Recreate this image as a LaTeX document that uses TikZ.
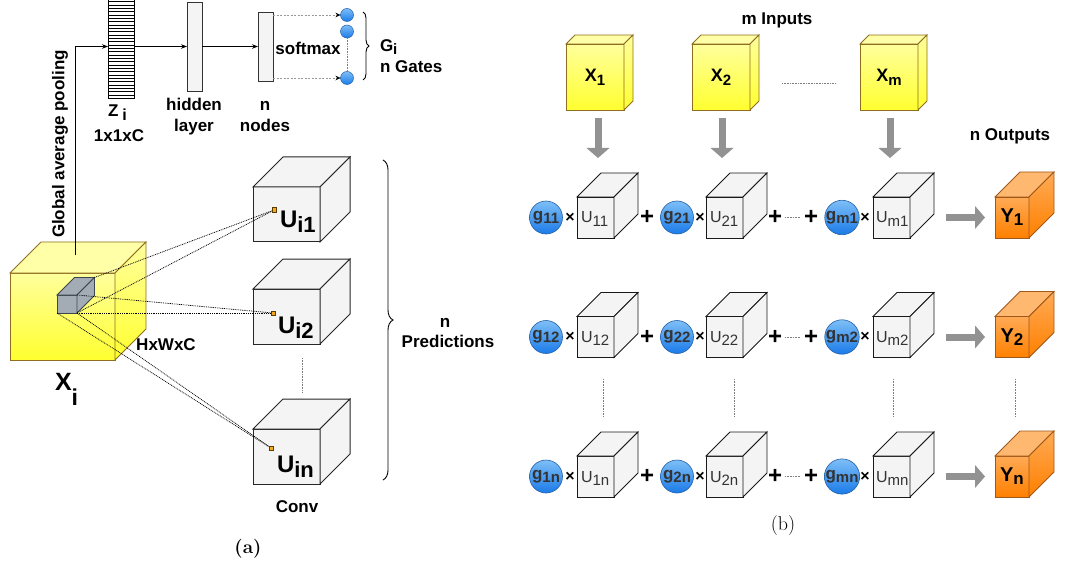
\documentclass[tikz,border=0pt]{standalone}
\usepackage{fontspec}
\setsansfont{Liberation Sans}
\usepackage{graphicx}
\usetikzlibrary{arrows.meta,decorations.pathreplacing,calc}

\definecolor{ylt}{HTML}{FFFF9C}
\definecolor{ydk}{HTML}{FFFF30}
\definecolor{ytopc}{HTML}{FFFFA8}
\definecolor{ybd}{HTML}{8F6E1F}
\definecolor{olt}{HTML}{FFAA55}
\definecolor{odk}{HTML}{FF8000}
\definecolor{otopc}{HTML}{FFB870}
\definecolor{obd}{HTML}{A0581A}
\definecolor{blt}{HTML}{7DBEF7}
\definecolor{bdk}{HTML}{1B7BE8}
\definecolor{bbd}{HTML}{2460A8}
\definecolor{cubefill}{HTML}{F4F4F4}
\definecolor{txtgray}{HTML}{333333}
\definecolor{arrgray}{HTML}{929292}
\definecolor{gcf}{HTML}{A3ACB5}
\definecolor{gcd}{HTML}{3C4650}
\definecolor{sqf}{HTML}{F5A623}
\definecolor{sqd}{HTML}{5A3D00}

\newcommand\myfs[1]{\fontsize{#1}{#1}\selectfont}
\newcommand\lowr[3]{\raisebox{-#1pt}{\myfs{#2}#3}}
\newcommand\cubesides[4]{%
  \draw[#3] (#1.north west) -- ++(#2,-#2) -- ([shift={(#2,-#2)}]#1.north east) -- (#1.north east) -- cycle;
  \draw[#4] (#1.north east) -- ++(#2,-#2) -- ([shift={(#2,-#2)}]#1.south east) -- (#1.south east) -- cycle;}

\begin{document}
\begin{tikzpicture}[x=1pt,y=-1pt,
  every node/.style={inner sep=0pt, outer sep=0pt},
  lbl/.style={font=\sffamily\bfseries\myfs{17}},
  arr/.style={-{Stealth[length=6pt,width=4.5pt]}, line width=0.8pt},
  dasharr/.style={draw=gray!80, dash pattern=on 2pt off 1.5pt, line width=0.6pt, -{Stealth[black,length=5pt,width=4.5pt]}},
  thindot/.style={draw=gray, dash pattern=on 0.8pt off 0.8pt, line width=0.6pt},
  dotl/.style={dash pattern=on 0.9pt off 0.9pt, line width=0.75pt},
  brc/.style={decorate, line width=0.9pt},
  bigarrow/.style={draw=arrgray, line width=7pt, -{Triangle[length=10pt,width=23pt,line width=0pt]}},
  layerbox/.style={draw=black!80, fill=cubefill, line width=0.8pt, minimum width=15pt},
  zbarbox/.style={draw, fill=white, line width=0.8pt, minimum width=26pt, minimum height=103pt},
  gdot/.style={circle, minimum size=13pt, top color=blt, bottom color=bdk, draw=bbd, line width=0.5pt},
  gate/.style={circle, minimum size=33pt, top color=blt, bottom color=bdk, draw=bbd, line width=0.6pt, font=\sffamily\bfseries\myfs{17}, text=txtgray},
  ycube/.style={top color=ylt, bottom color=ydk, draw=ybd, line width=0.8pt},
  ytop/.style={draw=ybd, line width=0.8pt, fill=ytopc},
  yside/.style={draw=ybd, line width=0.8pt, top color=ylt, bottom color=ydk},
  ocube/.style={top color=olt, bottom color=odk, draw=obd, line width=0.8pt, minimum width=34pt, minimum height=41pt, font=\sffamily\bfseries\myfs{20}},
  otop/.style={draw=obd, line width=0.8pt, fill=otopc},
  oside/.style={draw=obd, line width=0.8pt, top color=olt, bottom color=odk},
  gcube/.style={draw=gcd, fill=gcf, line width=0.8pt, minimum width=20pt, minimum height=18pt},
  gside/.style={draw=gcd, fill=gcf, line width=0.8pt},
  acube/.style={draw=black!85, fill=cubefill, line width=1pt, minimum width=67pt, minimum height=55pt},
  aside/.style={draw=black!85, fill=cubefill, line width=1pt},
  ucube/.style={draw=black!90, fill=cubefill, line width=0.8pt, minimum width=37pt, minimum height=41pt},
  uside/.style={draw=black!90, fill=cubefill, line width=0.8pt},
  ulbl/.style={anchor=base west, font=\sffamily\myfs{16}, text=txtgray},
  alab/.style={anchor=base west, font=\sffamily\bfseries\myfs{24}},
  sq/.style={draw=sqd, fill=sqf, line width=0.5pt, minimum size=4.5pt},
  tms/.style={font=\sffamily\bfseries\myfs{16}},
  pls/.style={font=\sffamily\bfseries\myfs{24}},
  xbox/.style={ycube, minimum width=58pt, minimum height=66pt, font=\sffamily\bfseries\myfs{18}}
]
\useasboundingbox (0,0) rectangle (1067,569);

% ---------------- (a) ----------------
\node[zbarbox] (zbar) at (121,46.5) {};
\foreach \k in {1,...,30}
  \draw[line width=0.5pt] ([yshift=-\k*3.33pt]zbar.north west) -- ([yshift=-\k*3.33pt]zbar.north east);
\node[layerbox, minimum height=89pt] (hidden) at (194.5,46.5) {};
\node[layerbox, minimum height=69pt] (nnodes) at (265.5,46.5) {};
\draw[arr] (zbar.east) -- (hidden.west);
\draw[arr] (hidden.east) -- (nnodes.west);
\node[gdot] (gt1) at (347,15) {};
\node[gdot] (gt2) at (347,31.5) {};
\node[gdot] (gt3) at (347,78) {};
\draw[dasharr] (nnodes.east |- gt1) -- (gt1.west);
\draw[dasharr] (nnodes.east |- gt3) -- (gt3.west);
\draw[thindot] (gt2.south) -- (gt3.north);
\node[lbl] (smx) at (308,48) {softmax};
\draw[brc, decoration={brace,amplitude=6pt}] (363,12) -- (363,80);
\node[lbl, anchor=base west] (gi) at (380,52) {G\lowr{3}{15}{i}};
\node[lbl, anchor=base west] (ng) at (380,73) {n Gates};
\node[lbl, anchor=base west] (zi) at (108,117) {Z\hspace{4pt}\lowr{4}{16}{i}};
\node[lbl, anchor=base] (zdim) at (119,142) {1x1xC};
\node[lbl, anchor=base] (hid1) at (194,111) {hidden};
\node[lbl, anchor=base] (hid2) at (194,132) {layer};
\node[lbl, anchor=base] (nn1) at (265,111) {n};
\node[lbl, anchor=base] (nn2) at (265,132) {nodes};
\node[lbl, rotate=90] (gap) at (60,144) {Global average pooling};

% input cube X_i
\node[ycube, minimum width=105pt, minimum height=87pt] (xi) at (62.5,316.5) {};
\cubesides{xi}{31}{ytop}{yside}
\coordinate (gpstart) at (75,255);
\draw[arr] (gpstart) |- (zbar.west);
\node[gcube] (gc) at (67,304) {};
\cubesides{gc}{17.5}{gside}{gside}
\coordinate (gctbr) at ([shift={(17.5,-17.5)}]gc.north east);
\node[lbl, anchor=base] (hwc) at (166,350) {HxWxC};
\node[font=\sffamily\bfseries\myfs{25}, anchor=base west] (xil) at (55,390) {X\lowr{15}{23}{i}};

% prediction cubes
\node[acube] (ui1) at (286.5,214.5) {};
\cubesides{ui1}{30}{aside}{aside}
\node[acube] (ui2) at (286.5,316.5) {};
\cubesides{ui2}{30}{aside}{aside}
\node[acube] (uin) at (286.5,456.5) {};
\cubesides{uin}{30}{aside}{aside}
\node[alab] (lui1) at (280,228) {U\lowr{5}{22}{i1}};
\node[alab] (lui2) at (278,333) {U\lowr{5}{22}{i2}};
\node[alab] (luin) at (277,472) {U\lowr{5}{22}{in}};
\node[sq] (sq1) at (274,210) {};
\node[sq] (sq2) at (273,313) {};
\node[sq] (sq3) at (271,448) {};
\draw[dotl] (gctbr) -- (sq1);
\draw[dotl] (gc.south east) -- (sq1);
\draw[dotl] (gc.north east) -- (sq2);
\draw[dotl] (gc.south east) -- (sq2);
\draw[dotl] (gc.south west) -- (sq3);
\draw[dotl] (gc.south east) -- (sq3);
\draw[thindot] ([xshift=15.5pt,yshift=-14pt]ui2.south) -- ([xshift=15.5pt,yshift=36pt]uin.north);
\node[lbl, anchor=base] (conv) at (297,512) {Conv};
\draw[brc, decoration={brace,amplitude=10pt}] (383,160) -- (383,480);
\node[lbl, anchor=base] (np1) at (445,327) {n};
\node[lbl, anchor=base] (np2) at (448,347) {Predictions};
\node[font=\rmfamily\bfseries\myfs{19}] (capa) at (248,549) {(a)};

% ---------------- (b) ----------------
\node[lbl] (minp) at (777,20) {m Inputs};
\node[lbl] (nout) at (1010,136) {n Outputs};
\node[xbox] (x1) at (595,77) {X\lowr{4}{15}{1}};
\cubesides{x1}{9}{ytop}{yside}
\node[xbox] (x2) at (721,77) {X\lowr{4}{15}{2}};
\cubesides{x2}{9}{ytop}{yside}
\node[xbox] (xm) at (889,77) {X\lowr{4}{15}{m}};
\cubesides{xm}{9}{ytop}{yside}
\draw[thindot] ([xshift=32pt,yshift=-6pt]x2.east) -- ([xshift=-25pt,yshift=-6pt]xm.west);
\draw[bigarrow] ([xshift=3pt,yshift=-8pt]x1.south) -- ++(0,40);
\draw[bigarrow] ([xshift=1pt,yshift=-8pt]x2.south) -- ++(0,40);
\draw[bigarrow] ([xshift=1pt,yshift=-8pt]xm.south) -- ++(0,40);

\foreach \q/\yy in {1/217.5,2/337,n/476.5}{
  \node[gate] (g1\q) at (546,\yy) {g\lowr{3}{15}{1\q}};
  \node[tms] (ta\q) at (570,\yy) {×};
  \node[ucube] (u1\q) at (595.5,\yy) {};
  \cubesides{u1\q}{24}{uside}{uside}
  \node[ulbl] (lu1\q) at ([xshift=4pt,yshift=-5.5pt]u1\q.west) {U\lowr{3}{15}{1\q}};
  \node[pls] (pa\q) at (647,\yy) {+};
  \node[gate] (g2\q) at (677,\yy) {g\lowr{3}{15}{2\q}};
  \node[tms] (tb\q) at (700,\yy) {×};
  \node[ucube] (u2\q) at (724.5,\yy) {};
  \cubesides{u2\q}{24}{uside}{uside}
  \node[ulbl] (lu2\q) at ([xshift=4pt,yshift=-5.5pt]u2\q.west) {U\lowr{3}{15}{2\q}};
  \node[pls] (pb\q) at (775,\yy) {+};
  \node[pls] (pc\q) at (811,\yy) {+};
  \draw[thindot] ([xshift=3pt]pb\q.east) -- ([xshift=-3pt]pc\q.west);
  \node[gate] (gm\q) at (842,\yy) {g\lowr{3}{15}{m\q}};
  \node[tms] (tc\q) at (865,\yy) {×};
  \node[ucube] (um\q) at (891.5,\yy) {};
  \cubesides{um\q}{24}{uside}{uside}
  \node[ulbl] (lum\q) at ([xshift=3pt,yshift=-5.5pt]um\q.west) {U\lowr{3}{15}{m\q}};
  \node[ocube] (y\q) at (1012,\yy) {Y\lowr{3}{17}{\q}};
  \cubesides{y\q}{25}{otop}{oside}
  \draw[bigarrow] ([xshift=36pt]um\q.east) -- ([xshift=-10pt]y\q.west);
}
\draw[thindot] (603,379) -- (603,416);
\draw[thindot] (734,379) -- (734,416);
\draw[thindot] (893,379) -- (893,416);
\draw[thindot] (1015,379) -- (1015,416);
\node[font=\rmfamily\myfs{20}] (capb) at (783,526) {(b)};
\end{tikzpicture}
\end{document}
